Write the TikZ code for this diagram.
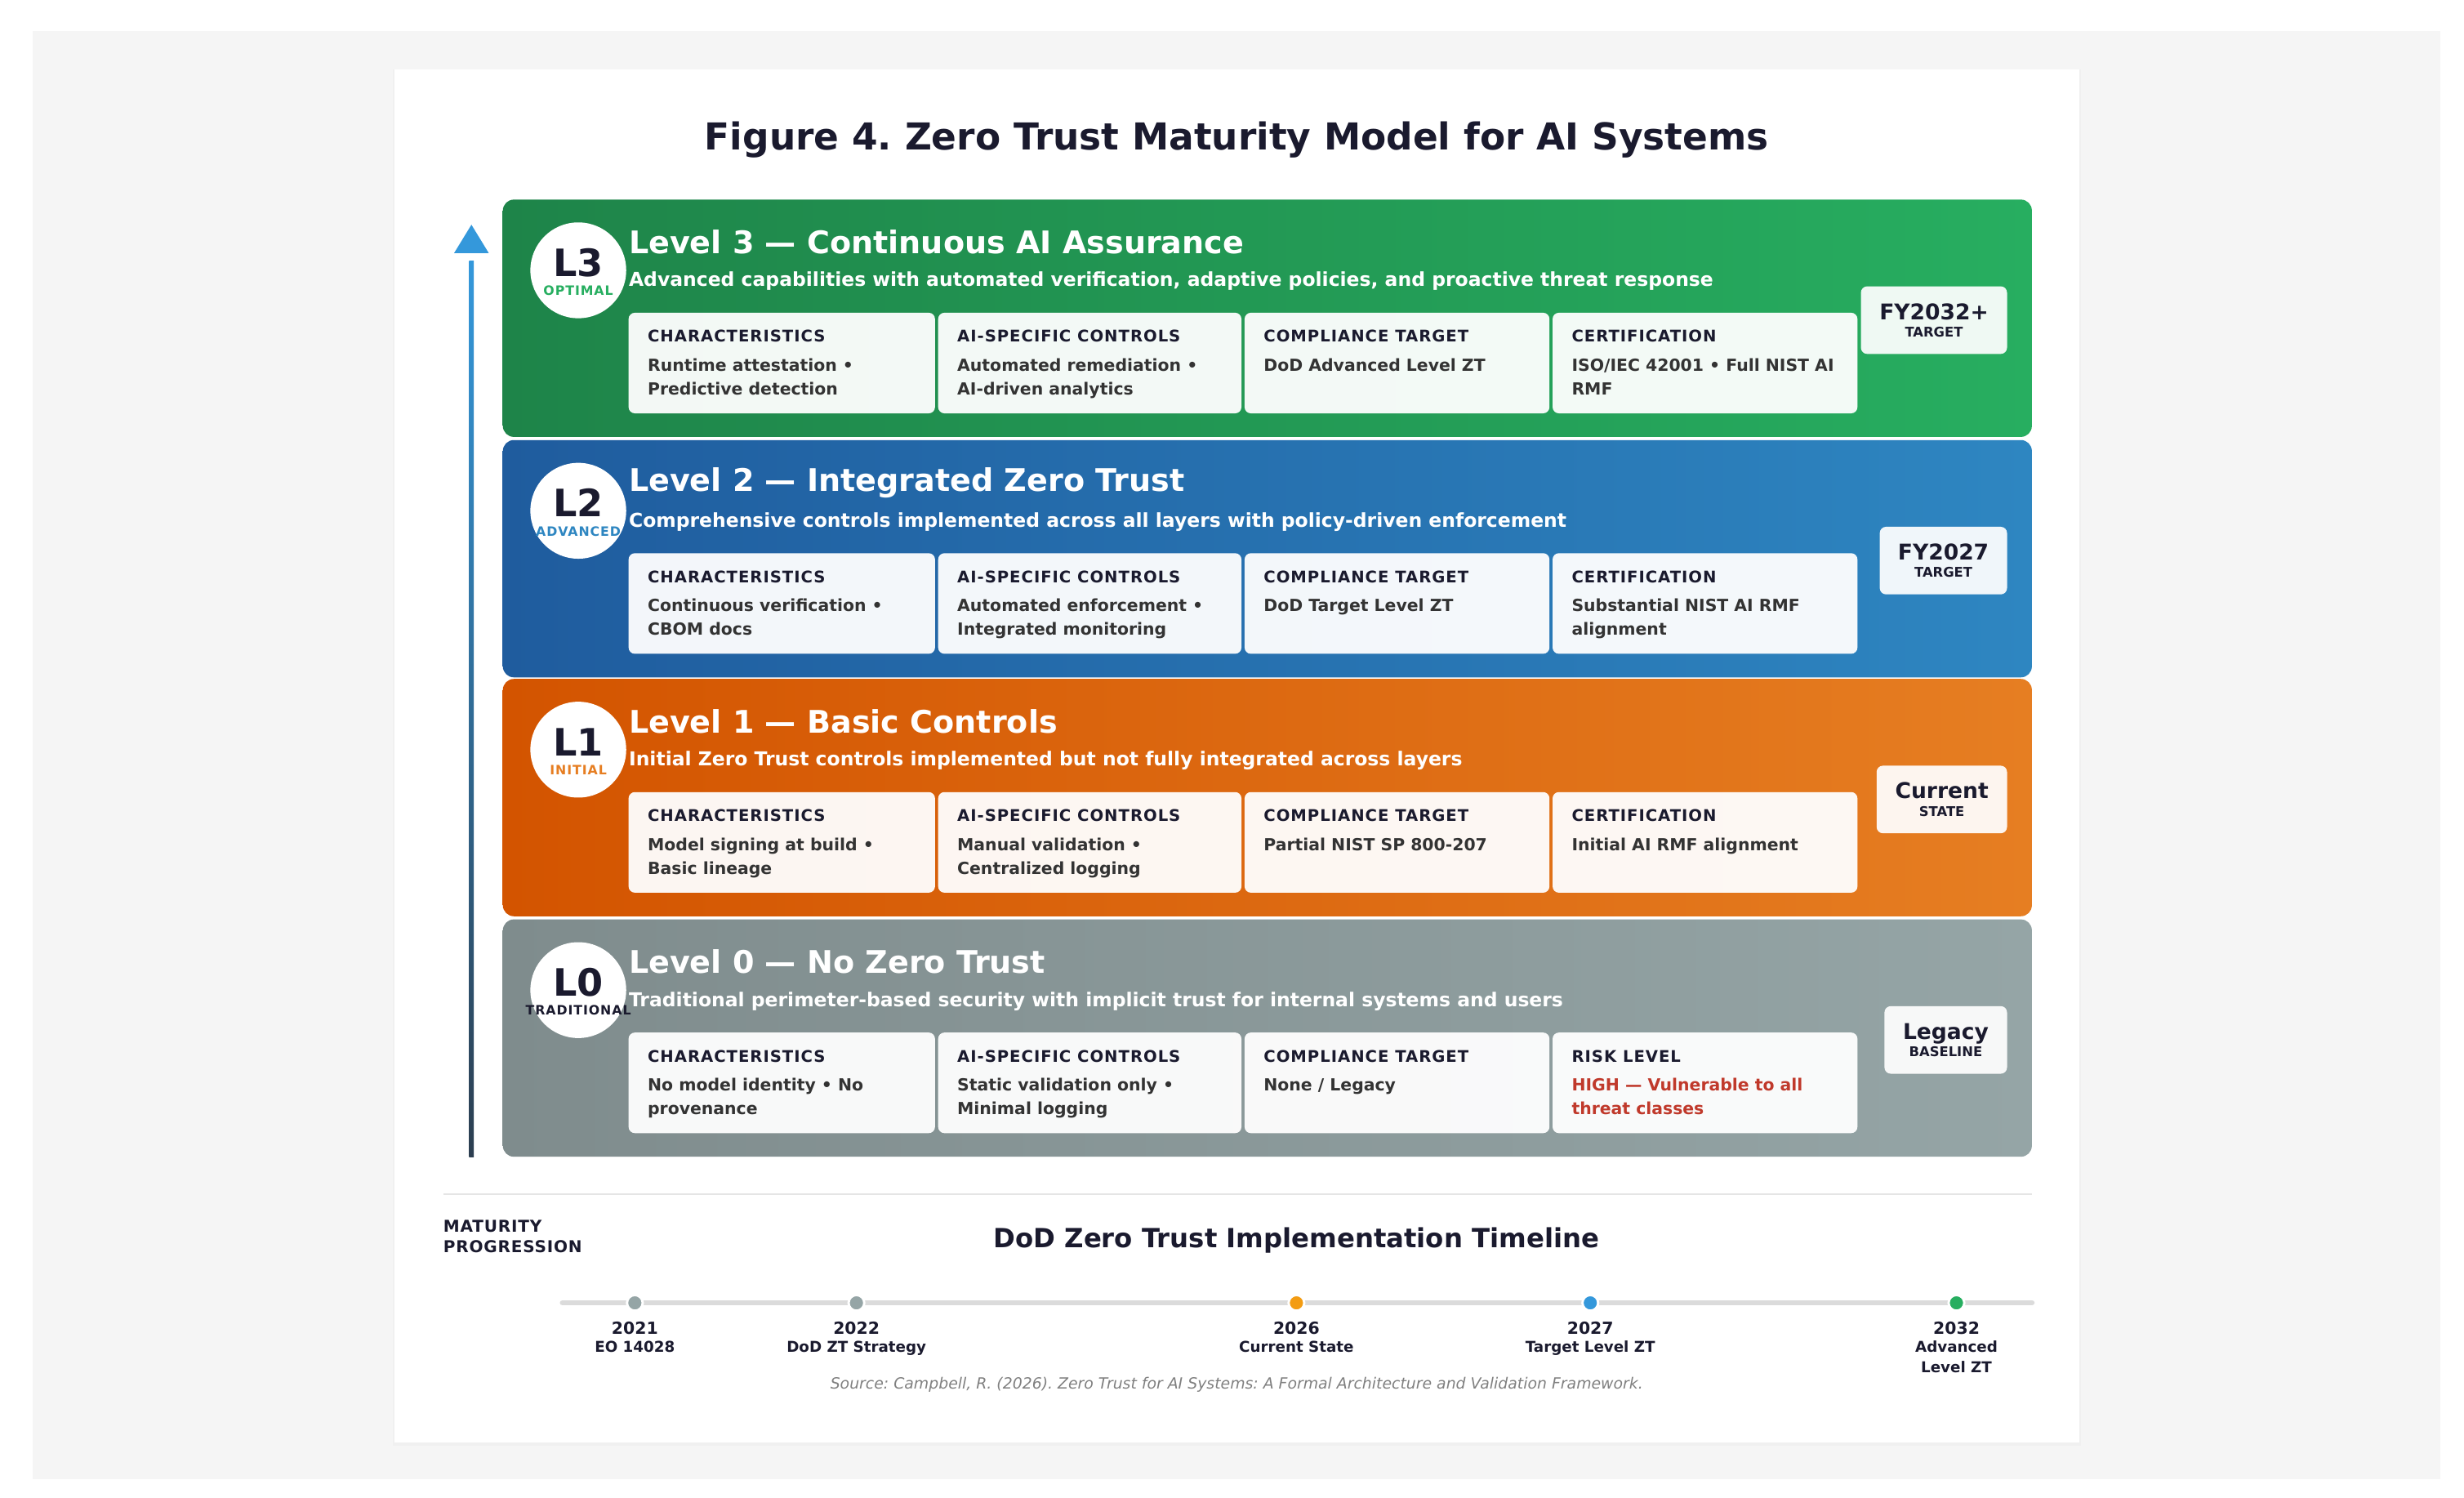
\documentclass[tikz,border=0pt]{standalone}
\usepackage{fontspec}
\setmainfont{DejaVu Sans}
\usetikzlibrary{shadows}
\frenchspacing
\definecolor{ink}{HTML}{1A1A2E}
\definecolor{body}{HTML}{333333}
\definecolor{gA}{HTML}{1E8449}\definecolor{gB}{HTML}{27AE60}
\definecolor{bA}{HTML}{1F5C9E}\definecolor{bB}{HTML}{2E86C1}
\definecolor{oA}{HTML}{D35400}\definecolor{oB}{HTML}{E67E22}
\definecolor{sA}{HTML}{7F8C8D}\definecolor{sB}{HTML}{95A5A6}
\definecolor{risk}{HTML}{C0392B}
\definecolor{arrB}{HTML}{3498DB}\definecolor{arrD}{HTML}{2C3E50}
\definecolor{dotO}{HTML}{F39C12}
\tikzset{
 band/.style={rounded corners=7pt},
 cell/.style={fill=white,fill opacity=0.95,rounded corners=4pt},
 badge/.style={fill=white,fill opacity=0.93,rounded corners=4pt},
 head/.style={anchor=west,text=ink,font=\bfseries\fontsize{10.2}{12}\selectfont\addfontfeature{LetterSpace=5}},
 btxt/.style={anchor=north west,text=body,align=left,font=\bfseries\fontsize{10.6}{15}\selectfont},
 dot/.style={circle,draw=white,line width=1.5pt,minimum size=10pt,inner sep=0pt},
 yr/.style={text=ink,font=\bfseries\fontsize{10.6}{12}\selectfont},
 ds/.style={text=ink,align=center,font=\bfseries\fontsize{9.5}{13}\selectfont},
}
\newcommand{\myband}[9]{%
 \shade[band,left color=#2,right color=#3] (320,#1) rectangle (1293,#1+151);
 \node[circle,fill=white,minimum size=61pt,inner sep=0pt] (c#4) at (368,#1+45) {};
 \node[text=ink,font=\bfseries\fontsize{24}{24}\selectfont] (l#4) at (368,#1+40) {L#4};
 \node[text=#3,font=\bfseries\fontsize{8.2}{9}\selectfont\addfontfeature{LetterSpace=6}] (t#4) at (368,#1+58) {#5};
 \node[anchor=west,text=white,inner sep=0pt,font=\bfseries\fontsize{19.8}{22}\selectfont] (h#4) at (400,#1+27) {#6};
 \node[anchor=west,text=white,inner sep=0pt,font=\bfseries\fontsize{12.2}{14}\selectfont] (s#4) at (400,#1+52) {#7};
 \node[badge,minimum height=43pt,minimum width={1277-#8},anchor=north west,inner sep=0pt] (bd#4) at (#8,#1+55) {};
 \node[text=ink,align=center,font=\bfseries\fontsize{13.8}{15}\selectfont] (bt#4) at (bd#4.center) {#9};
}
\newcommand{\mycells}[9]{%
 \foreach \xa/\xb/\hd/\bt [count=\i] in {400/595/CHARACTERISTICS/{#2},597/790/AI-SPECIFIC CONTROLS/{#3},792/986/COMPLIANCE TARGET/{#4}}{
   \fill[cell] (\xa,#1+72) rectangle (\xb,#1+136);
   \node[head,inner sep=0pt] (hd#9\i) at (\xa+12,#1+87) {\hd};
   \node[btxt,inner sep=0pt] (bt#9\i) at (\xa+12,#1+101) {\bt};
 }
 \fill[cell] (988,#1+72) rectangle (1182,#1+136);
 \node[head,inner sep=0pt] (hd#94) at (1000,#1+87) {#5};
 \node[btxt,inner sep=0pt,text=#7] (bt#94) at (1000,#1+101) {#6};
}
\begin{document}
\begin{tikzpicture}[x=1pt,y=-1pt]
\useasboundingbox (0,0) rectangle (1568,953);
\fill[white] (0,0) rectangle (1568,953);
\fill[black!4] (21,20) rectangle (1553,941);
\fill[black!6] (250,44) rectangle (1324,920);
\fill[white] (251,44) rectangle (1323,918);
\node[text=ink,font=\bfseries\fontsize{23.6}{26}\selectfont] (title) at (787,89) {Figure 4. Zero Trust Maturity Model for AI Systems};
\shade[top color=arrB,bottom color=arrD] (298.5,166) rectangle (301.5,736);
\fill[arrB] (289,161) -- (311,161) -- (300,143) -- cycle;
\myband{127}{gA}{gB}{3}{OPTIMAL}{Level 3 — Continuous AI Assurance}{Advanced capabilities with automated verification, adaptive policies, and proactive threat response}{1184}{FY2032+\\[-4pt]{\fontsize{8.5}{9}\selectfont TARGET}}
\mycells{127}{Runtime attestation •\\Predictive detection}{Automated remediation •\\AI-driven analytics}{DoD Advanced Level ZT}{CERTIFICATION}{ISO/IEC 42001 • Full NIST AI\\RMF}{body}{}{c}
\myband{280}{bA}{bB}{2}{ADVANCED}{Level 2 — Integrated Zero Trust}{Comprehensive controls implemented across all layers with policy-driven enforcement}{1196}{FY2027\\[-4pt]{\fontsize{8.5}{9}\selectfont TARGET}}
\mycells{280}{Continuous verification •\\CBOM docs}{Automated enforcement •\\Integrated monitoring}{DoD Target Level ZT}{CERTIFICATION}{Substantial NIST AI RMF\\alignment}{body}{}{b}
\myband{432}{oA}{oB}{1}{INITIAL}{Level 1 — Basic Controls}{Initial Zero Trust controls implemented but not fully integrated across layers}{1194}{Current\\[-4pt]{\fontsize{8.5}{9}\selectfont STATE}}
\mycells{432}{Model signing at build •\\Basic lineage}{Manual validation •\\Centralized logging}{Partial NIST SP 800-207}{CERTIFICATION}{Initial AI RMF alignment}{body}{}{a}
\myband{585}{sA}{sB}{0}{\textcolor{ink}{TRADITIONAL}}{Level 0 — No Zero Trust}{Traditional perimeter-based security with implicit trust for internal systems and users}{1199}{Legacy\\[-4pt]{\fontsize{8.5}{9}\selectfont BASELINE}}
\mycells{585}{No model identity • No\\provenance}{Static validation only •\\Minimal logging}{None / Legacy}{RISK LEVEL}{HIGH — Vulnerable to all\\threat classes}{risk}{}{z}
\draw[black!10,line width=1pt] (282,760) -- (1293,760);
\node[anchor=north west,inner sep=0pt,align=left,text=ink,font=\bfseries\fontsize{10.4}{13}\selectfont\addfontfeature{LetterSpace=4}] (mp) at (282,776) {MATURITY\\PROGRESSION};
\node[text=ink,font=\bfseries\fontsize{16.8}{18}\selectfont] (tl) at (825,789) {DoD Zero Trust Implementation Timeline};
\coordinate (ts) at (358,829); \coordinate (te) at (1293,829);
\draw[black!14,line width=3.5pt,line cap=round] (ts) -- (te);
\foreach \x/\c/\y/\d [count=\i] in {404/sB/2021/EO 14028,545/sB/2022/DoD ZT Strategy,825/dotO/2026/Current State,1012/arrB/2027/Target Level ZT,1245/gB/2032/Advanced\\Level ZT}{
  \node[dot,fill=\c] (d\i) at (\x,829) {};
  \node[yr] (y\i) at (\x,845) {\y};
  \node[ds,anchor=north,inner sep=0pt] (e\i) at (\x,853) {\d};
}
\node[text=black!50,font=\itshape\fontsize{9.8}{11}\selectfont] (src) at (787,881) {Source: Campbell, R. (2026). Zero Trust for AI Systems: A Formal Architecture and Validation Framework.};
\end{tikzpicture}
\end{document}
